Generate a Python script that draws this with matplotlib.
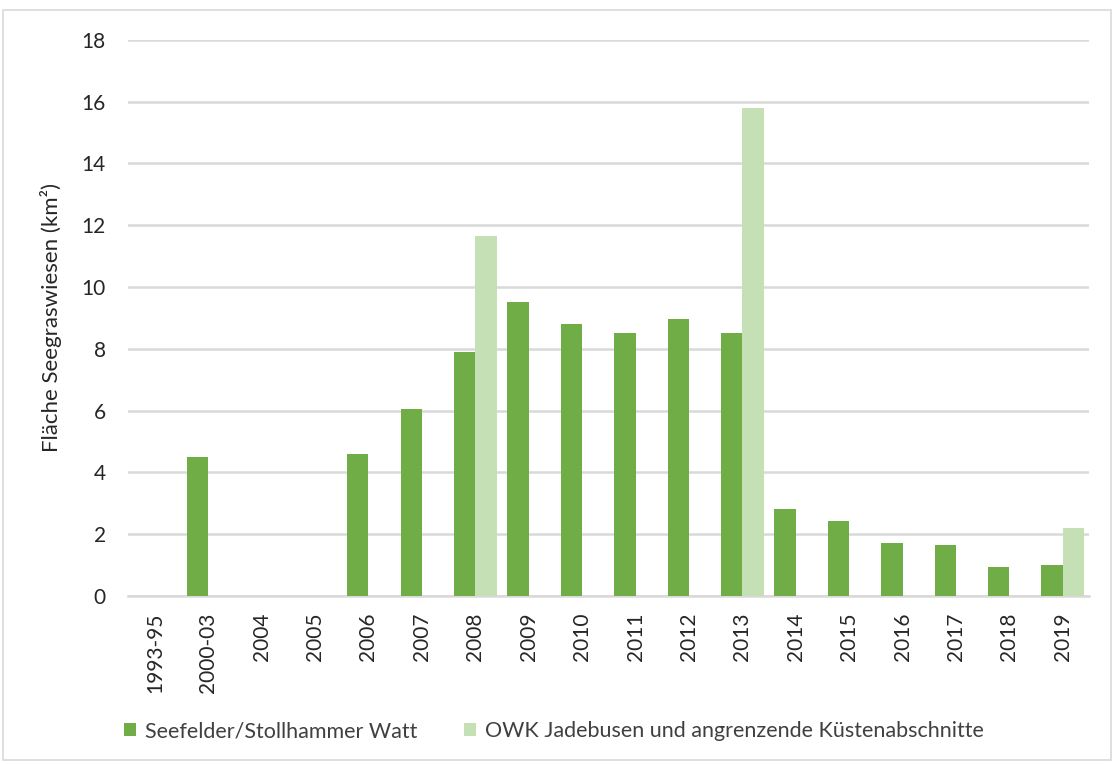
import numpy as np
from matplotlib import pyplot as plt
from matplotlib.patches import Rectangle

# Jahre / Zeiträume
jahre = ["1993-95", "2000-03", "2004", "2005", "2006", "2007", "2008", "2009", "2010",
         "2011", "2012", "2013", "2014", "2015", "2016", "2017", "2018", "2019"]

# Fläche Seegraswiesen (km²)
seefelder = [0, 4.5, 0, 0, 4.6, 6.05, 7.9, 9.5, 8.8,
             8.5, 8.95, 8.5, 2.8, 2.43, 1.7, 1.65, 0.95, 1.0]
owk_jade = [0, 0, 0, 0, 0, 0, 11.65, 0, 0,
            0, 0, 15.8, 0, 0, 0, 0, 0, 2.2]

plt.rcParams['font.family'] = ['Lato', 'DejaVu Sans']

fig = plt.figure(figsize=(11.14, 7.64), dpi=100)
ax = fig.add_axes([0.115, 0.22, 0.863, 0.728])

x = np.arange(len(jahre))
breite = 0.4
ax.bar(x - breite / 2, seefelder, breite, color='#70AD47', label='Seefelder/Stollhammer Watt', zorder=3)
ax.bar(x + breite / 2, owk_jade, breite, color='#C5E0B4', label='OWK Jadebusen und angrenzende Küstenabschnitte', zorder=3)

ax.set_xlim(-0.5, len(jahre) - 0.5)
ax.set_ylim(0, 18)
ax.set_yticks(range(0, 19, 2))
ax.set_xticks(x)
ax.set_xticklabels(jahre, rotation=90, fontsize=15, color='#262626')
ax.tick_params(axis='y', labelsize=15, colors='#262626', length=0, pad=16)
ax.tick_params(axis='x', length=0, pad=12)
ax.grid(axis='y', color='#d9d9d9', linewidth=1.8, zorder=0)
for s in ['top', 'right', 'left']:
    ax.spines[s].set_visible(False)
ax.spines['bottom'].set_color('#d9d9d9')
ax.spines['bottom'].set_linewidth(1.8)

ax.set_ylabel('Fläche Seegraswiesen (km²)', fontsize=16, color='#262626', labelpad=14)

fig.legend(loc='center left', bbox_to_anchor=(0.094, 0.043), ncol=2, frameon=False,
           fontsize=15.5, handlelength=0.55, handleheight=0.55, columnspacing=2.2,
           handletextpad=0.4, labelcolor='#404040')

# Rahmen um das Diagramm
fig.patches.append(Rectangle((0.003, 0.005), 0.994, 0.982, transform=fig.transFigure,
                             fill=False, edgecolor='#d9d9d9', linewidth=1.2))

plt.savefig('out.png', dpi=100)
